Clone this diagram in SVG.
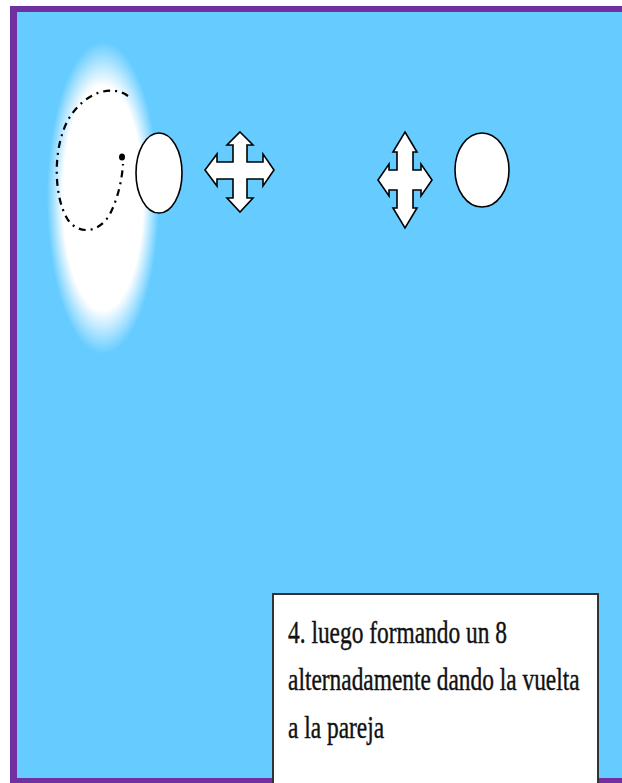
<svg xmlns="http://www.w3.org/2000/svg" width="622" height="783" viewBox="0 0 622 783">
<style>
.arrow{fill:#fff;stroke:#000;stroke-width:1.6;stroke-linejoin:miter}
.person{fill:#fff;stroke:#000;stroke-width:1.6}
.txt{font-family:"Liberation Serif","Times New Roman",serif;font-size:31px;fill:#111;stroke:#111;stroke-width:0.4}
</style>
<defs>
<radialGradient id="glow" cx="0.5" cy="0.5" r="0.5">
<stop offset="0" stop-color="#fff" stop-opacity="1"/>
<stop offset="0.72" stop-color="#fff" stop-opacity="1"/>
<stop offset="1" stop-color="#fff" stop-opacity="0"/>
</radialGradient>
</defs>
<rect x="0" y="0" width="622" height="783" fill="#fff"/>
<rect x="10" y="6" width="612" height="777" fill="#7030A0"/>
<rect x="17" y="12" width="605" height="766" fill="#66CCFF"/>
<g id="glow-area">
<ellipse cx="103" cy="198" rx="56" ry="156" fill="url(#glow)"/>
</g>
<g id="path-loop">
<path d="M128,96 C112,84 84,92 68,120 C52,150 54,198 68,220 C80,236 100,232 110,214 C118,198 122,180 123,164" fill="none" stroke="#000" stroke-width="2.2" stroke-dasharray="7,5,2,5"/>
<ellipse cx="122" cy="157" rx="3" ry="3.5" fill="#000"/>
</g>
<g id="person1">
<ellipse class="person" cx="159" cy="173" rx="23" ry="40"/>
</g>
<g id="arrow1">
<polygon class="arrow" points="240,132 253,145 247,145 247,162 263,162 263,154 274,170 263,186 263,179 247,179 247,198 253,198 240,212 227,198 233,198 233,179 217,179 217,186 205,170 217,154 217,162 233,162 233,145 227,145"/>
</g>
<g id="arrow2">
<polygon class="arrow" points="405,132 417,152 413,152 413,170 421,170 421,164 432,180 421,196 421,190 413,190 413,208 417,208 405,228 393,208 397,208 397,190 389,190 389,196 378,180 389,164 389,170 397,170 397,152 393,152"/>
</g>
<g id="person2">
<ellipse class="person" cx="482" cy="170" rx="27" ry="37"/>
</g>
<g id="caption">
<rect x="273" y="594" width="325" height="191" fill="#fff" stroke="#333" stroke-width="2"/>
<g transform="translate(288,0) scale(0.755,1)">
<text class="txt" x="0" y="643">4. luego formando un 8</text>
<text class="txt" x="0" y="690">alternadamente dando la vuelta</text>
<text class="txt" x="0" y="738">a la pareja</text>
</g>
</g>
</svg>
